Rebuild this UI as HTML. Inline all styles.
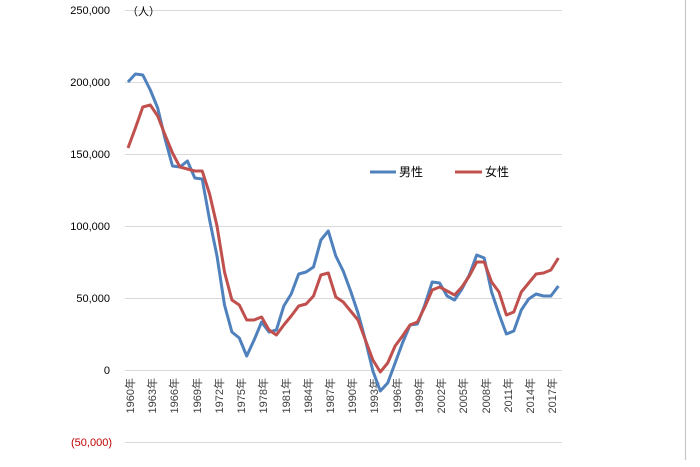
<!DOCTYPE html>
<html><head><meta charset="utf-8"><style>
body{margin:0;background:#fff;}
svg text{font-family:"Liberation Sans","Noto Sans CJK JP",sans-serif;}
</style></head><body>
<svg width="700" height="462" viewBox="0 0 700 462" xmlns="http://www.w3.org/2000/svg">
<rect width="700" height="462" fill="#fff"/>
<line x1="685.5" y1="0" x2="685.5" y2="460" stroke="#c8c8c8" stroke-width="1.2"/>
<g stroke="#d9d9d9" stroke-width="1">
<line x1="125" y1="10.5" x2="562" y2="10.5"/>
<line x1="125" y1="82.5" x2="562" y2="82.5"/>
<line x1="125" y1="154.5" x2="562" y2="154.5"/>
<line x1="125" y1="226.5" x2="562" y2="226.5"/>
<line x1="125" y1="298.5" x2="562" y2="298.5"/>
<line x1="125" y1="370.5" x2="562" y2="370.5"/>
<line x1="125" y1="442.5" x2="562" y2="442.5"/>
</g>
<g font-size="11" fill="#000" text-anchor="end">
<text x="110" y="14">250,000</text>
<text x="110" y="86">200,000</text>
<text x="110" y="158">150,000</text>
<text x="110" y="230">100,000</text>
<text x="110" y="302">50,000</text>
<text x="110" y="374">0</text>
<text x="112" y="446" fill="#c00000">(50,000)</text>
</g>
<text x="127" y="15" font-size="11">（人）</text>
<g font-size="11" fill="#404040">
<text transform="translate(134,378) rotate(-90)" text-anchor="end">1960年</text>
<text transform="translate(156,378) rotate(-90)" text-anchor="end">1963年</text>
<text transform="translate(178,378) rotate(-90)" text-anchor="end">1966年</text>
<text transform="translate(201,378) rotate(-90)" text-anchor="end">1969年</text>
<text transform="translate(223,378) rotate(-90)" text-anchor="end">1972年</text>
<text transform="translate(245,378) rotate(-90)" text-anchor="end">1975年</text>
<text transform="translate(267,378) rotate(-90)" text-anchor="end">1978年</text>
<text transform="translate(290,378) rotate(-90)" text-anchor="end">1981年</text>
<text transform="translate(312,378) rotate(-90)" text-anchor="end">1984年</text>
<text transform="translate(334,378) rotate(-90)" text-anchor="end">1987年</text>
<text transform="translate(356,378) rotate(-90)" text-anchor="end">1990年</text>
<text transform="translate(378,378) rotate(-90)" text-anchor="end">1993年</text>
<text transform="translate(401,378) rotate(-90)" text-anchor="end">1996年</text>
<text transform="translate(423,378) rotate(-90)" text-anchor="end">1999年</text>
<text transform="translate(445,378) rotate(-90)" text-anchor="end">2002年</text>
<text transform="translate(467,378) rotate(-90)" text-anchor="end">2005年</text>
<text transform="translate(490,378) rotate(-90)" text-anchor="end">2008年</text>
<text transform="translate(512,378) rotate(-90)" text-anchor="end">2011年</text>
<text transform="translate(534,378) rotate(-90)" text-anchor="end">2014年</text>
<text transform="translate(556,378) rotate(-90)" text-anchor="end">2017年</text>
</g>
<polyline fill="none" stroke="#4f81bd" stroke-width="3" stroke-linejoin="round" points="128,82 135.4,74 142.8,75 150.3,90 157.7,108 165.1,139 172.5,166 179.9,167 187.4,161 194.8,178 202.2,179 209.6,220 217,256 224.5,305 231.9,332 239.3,338 246.7,356 254.1,340 261.6,322 269,332 276.4,330 283.8,306 291.2,294 298.7,274 306.1,272 313.5,267 320.9,240 328.3,231 335.8,256 343.2,271 350.6,291 358,313 365.4,340 372.9,371 380.3,391 387.7,383 395.1,363 402.5,343 410,325 417.4,324 424.8,305 432.2,282 439.6,283 447.1,296 454.5,300 461.9,289 469.3,275 476.7,255 484.2,258 491.6,292 499,314 506.4,334 513.8,331 521.3,310 528.7,299 536.1,294 543.5,296 550.9,296 558.4,286"/>
<polyline fill="none" stroke="#c0504d" stroke-width="3" stroke-linejoin="round" points="128,148 135.4,128 142.8,107 150.3,105 157.7,116 165.1,135 172.5,153 179.9,167 187.4,169 194.8,171 202.2,171 209.6,194 217,226 224.5,272 231.9,300 239.3,305 246.7,320 254.1,320 261.6,317 269,330 276.4,335 283.8,325 291.2,316 298.7,306 306.1,304 313.5,296 320.9,275 328.3,273 335.8,297 343.2,302 350.6,311 358,320 365.4,340 372.9,360 380.3,372 387.7,363 395.1,346 402.5,336 410,325 417.4,322 424.8,307 432.2,290 439.6,287 447.1,291 454.5,295 461.9,287 469.3,276 476.7,262 484.2,262 491.6,282 499,292 506.4,315 513.8,312 521.3,292 528.7,283 536.1,274 543.5,273 550.9,270 558.4,258"/>
<line x1="370" y1="172" x2="396" y2="172" stroke="#4f81bd" stroke-width="3"/>
<text x="399" y="176" font-size="12">男性</text>
<line x1="455" y1="172" x2="482" y2="172" stroke="#c0504d" stroke-width="3"/>
<text x="485" y="176" font-size="12">女性</text>
</svg>
</body></html>
